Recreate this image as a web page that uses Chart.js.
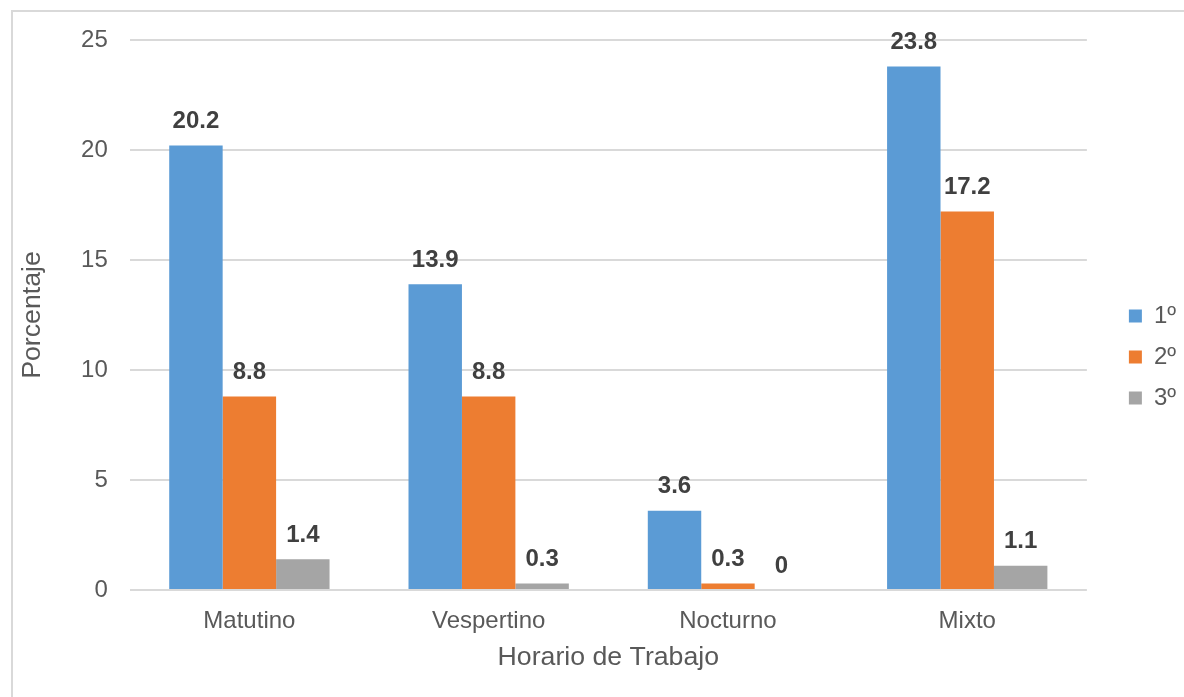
<!DOCTYPE html>
<html>
<head>
<meta charset="utf-8">
<script src="https://cdn.jsdelivr.net/npm/chart.js@4"></script>
<style>
  html, body { margin: 0; padding: 0; background: #fff; }
  #wrap { position: relative; width: 1184px; height: 697px; overflow: hidden; }
  #frame { position: absolute; left: 11px; top: 10px; width: 1300px; height: 800px;
           border-left: 2px solid #d9d9d9; border-top: 2px solid #d9d9d9; box-sizing: border-box; }
  canvas { position: absolute; left: 0; top: 0; }
</style>
</head>
<body>
<div id="wrap">
  <div id="frame"></div>
  <canvas id="chart" width="1184" height="697"></canvas>
</div>
<script>
const categories = ['Matutino', 'Vespertino', 'Nocturno', 'Mixto'];
const seriesNames = ['1º', '2º', '3º'];
const primero = [20.2, 13.9, 3.6, 23.8];
const segundo = [8.8, 8.8, 0.3, 17.2];
const tercero = [1.4, 0.3, 0, 1.1];
const yTicks = [0, 5, 10, 15, 20, 25];

const colors = ['#5b9bd5', '#ed7d31', '#a5a5a5'];
const font = 'Liberation Sans, Arial, sans-serif';

// value labels above each bar
const barLabels = {
    id: 'barLabels',
    afterDatasetsDraw(chart) {
        const ctx = chart.ctx;
        ctx.save();
        ctx.font = 'bold 24px ' + font;
        ctx.fillStyle = '#404040';
        ctx.textAlign = 'center';
        ctx.textBaseline = 'middle';
        chart.data.datasets.forEach((ds, i) => {
            chart.getDatasetMeta(i).data.forEach((bar, j) => {
                ctx.fillText(String(ds.data[j]), bar.x, bar.y - 24);
            });
        });
        ctx.restore();
    }
};

// nudge the legend away from the plot
const legendShift = {
    id: 'legendShift',
    afterLayout(chart) {
        const lg = chart.legend;
        if (!lg) return;
        lg.left += 25; lg.right += 25;
    }
};

const datasets = [primero, segundo, tercero].map((d, i) => ({
    label: seriesNames[i],
    data: d,
    backgroundColor: colors[i],
    borderWidth: 0,
    barPercentage: 1,
    categoryPercentage: 0.67
}));

new Chart(document.getElementById('chart').getContext('2d'), {
    type: 'bar',
    data: { labels: categories, datasets: datasets },
    options: {
        responsive: false,
        animation: false,
        layout: { padding: { left: 11, top: 40, right: 23, bottom: 23 } },
        plugins: {
            tooltip: { enabled: false },
            legend: {
                position: 'right',
                labels: {
                    boxWidth: 13,
                    boxHeight: 13,
                    padding: 17,
                    color: '#595959',
                    font: { family: font, size: 24 }
                }
            }
        },
        scales: {
            x: {
                afterFit(scale) {
                    scale.height = 84;
                },
                grid: { display: false, drawTicks: false },
                border: { display: false },
                ticks: { color: '#595959', padding: 17, font: { family: font, size: 24 } },
                title: {
                    display: true,
                    text: 'Horario de Trabajo',
                    color: '#595959',
                    padding: { top: 6, bottom: 0 },
                    font: { family: font, size: 26.7 }
                }
            },
            y: {
                min: 0,
                max: 25,
                afterBuildTicks(scale) {
                    scale.ticks = yTicks.map(v => ({ value: v }));
                },
                grid: { color: '#d9d9d9', lineWidth: 2, drawTicks: false },
                border: { display: false },
                ticks: { color: '#595959', padding: 22, font: { family: font, size: 24 } },
                title: {
                    display: true,
                    text: 'Porcentaje',
                    color: '#595959',
                    padding: { top: 6, bottom: 10 },
                    font: { family: font, size: 26.7 }
                }
            }
        }
    },
    plugins: [barLabels, legendShift]
});
</script>
</body>
</html>
